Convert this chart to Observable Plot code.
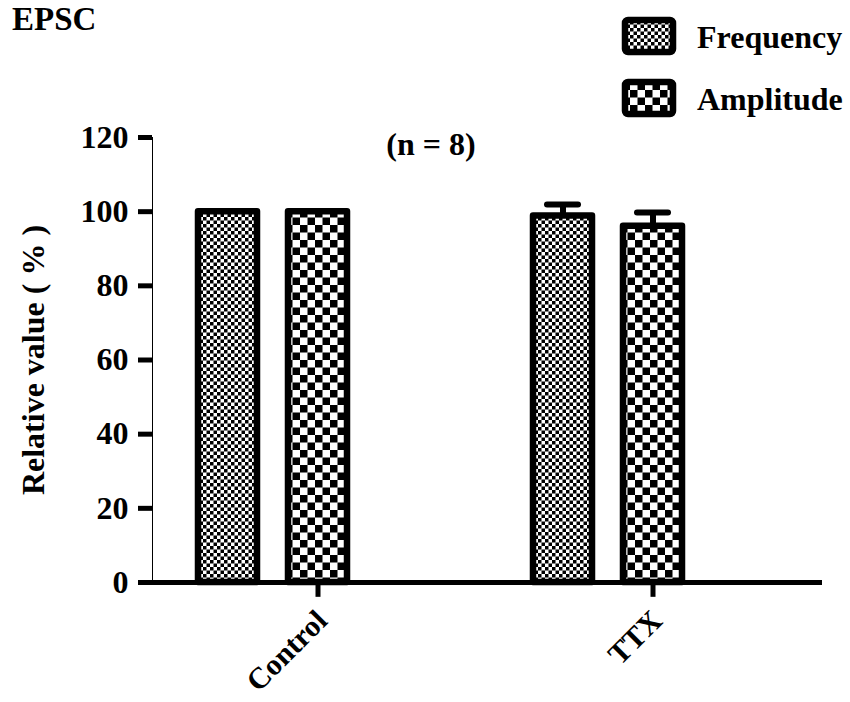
<!DOCTYPE html>
<html>
<head>
<meta charset="utf-8">
<script src="https://cdn.jsdelivr.net/npm/d3@7"></script>
<script src="https://cdn.jsdelivr.net/npm/@observablehq/plot@0.6"></script>
<style>
  html, body { margin: 0; padding: 0; background: #fff; }
  #chart { width: 850px; height: 702px; }
</style>
</head>
<body>
<div id="chart"></div>
<script>
// ---- data ----
const groups = ["Control", "TTX"];
const series = ["Frequency", "Amplitude"];
const frequency = [100, 98.8];
const amplitude = [100, 96.1];
const frequencyErr = [0, 3.1];
const amplitudeErr = [0, 3.7];
const yTicks = [0, 20, 40, 60, 80, 100, 120];
const title = "EPSC";
const note = "(n = 8)";
const yLabel = "Relative value ( % )";

const patternIds = {Frequency: "fineCheck", Amplitude: "coarseCheck"};

const rows = [];
groups.forEach((g, i) => {
  rows.push({group: g, series: "Frequency", value: frequency[i], err: frequencyErr[i]});
  rows.push({group: g, series: "Amplitude", value: amplitude[i], err: amplitudeErr[i]});
});
const errRows = rows.filter(d => d.err > 0);
const groupTicks = groups.map(g => ({group: g, series: "Amplitude"}));

const font = "'Liberation Serif', 'Times New Roman', serif";

const svg = Plot.plot({
  width: 850,
  height: 702,
  marginLeft: 152,
  marginRight: 28,
  marginTop: 137,
  marginBottom: 120,
  style: {fontFamily: font, fontWeight: "bold", fontSize: "32px", color: "black", background: "white"},
  fx: {domain: groups, padding: 0, axis: null},
  x: {domain: series, paddingInner: 0.35, paddingOuter: 1.036, align: 0.248, axis: null},
  y: {
    domain: [0, 120],
    ticks: yTicks,
    tickSize: 14,
    tickPadding: 10,
    line: true,
    label: null
  },
  marks: [
    Plot.barY(rows.filter(d => d.series === "Frequency"), {
      fx: "group", x: "series", y: "value",
      fill: "url(#fineCheck)", stroke: "black", strokeWidth: 6.5, strokeLinejoin: "round"
    }),
    Plot.barY(rows.filter(d => d.series === "Amplitude"), {
      fx: "group", x: "series", y: "value",
      fill: "url(#coarseCheck)", stroke: "black", strokeWidth: 6.5, strokeLinejoin: "round"
    }),
    Plot.ruleX(errRows, {
      fx: "group", x: "series", y1: "value", y2: d => d.value + d.err,
      stroke: "black", strokeWidth: 6
    }),
    Plot.tickY(errRows, {
      fx: "group", x: "series", y: d => d.value + d.err,
      stroke: "black", strokeWidth: 6, strokeLinecap: "round",
      insetLeft: 14, insetRight: 14
    }),
    Plot.ruleY([0], {stroke: "black", strokeWidth: 5}),
    Plot.ruleX(groupTicks, {
      fx: "group", x: "series", y1: 0, y2: -4,
      stroke: "black", strokeWidth: 5
    }),
    Plot.text(groupTicks, {
      fx: "group", x: "series", y: -9, text: "group",
      rotate: -45, textAnchor: "end", dx: 4,
      fontSize: 30, fontWeight: "bold", fill: "black"
    })
  ]
});

// patterns
const sel = d3.select(svg);
const defs = sel.insert("defs", ":first-child");
const fine = defs.append("pattern").attr("id", "fineCheck")
  .attr("patternUnits", "userSpaceOnUse").attr("width", 7).attr("height", 7);
fine.append("rect").attr("width", 7).attr("height", 7).attr("fill", "white");
fine.append("rect").attr("width", 3.5).attr("height", 3.5).attr("fill", "black");
fine.append("rect").attr("x", 3.5).attr("y", 3.5).attr("width", 3.5).attr("height", 3.5).attr("fill", "black");
const coarse = defs.append("pattern").attr("id", "coarseCheck")
  .attr("patternUnits", "userSpaceOnUse").attr("width", 15).attr("height", 15);
coarse.append("rect").attr("width", 15).attr("height", 15).attr("fill", "white");
coarse.append("rect").attr("width", 7.5).attr("height", 7.5).attr("fill", "black");
coarse.append("rect").attr("x", 7.5).attr("y", 7.5).attr("width", 7.5).attr("height", 7.5).attr("fill", "black");

// thicken y axis
sel.selectAll('[aria-label^="y-axis"] path, [aria-label^="y-axis"] line')
  .attr("stroke", "black").attr("stroke-width", 5);
sel.selectAll('[aria-label^="y-axis"] text').attr("fill", "black");

// title, axis title, note and legend
const ann = sel.append("g")
  .attr("font-family", font).attr("font-weight", "bold").attr("fill", "black")
  .attr("text-anchor", "start");
ann.append("text").attr("x", 12).attr("y", 30).attr("font-size", 33).text(title);
ann.append("text").attr("x", 431).attr("y", 155).attr("text-anchor", "middle").attr("font-size", 32).text(note);
ann.append("text").attr("transform", "translate(44,360) rotate(-90)")
  .attr("text-anchor", "middle").attr("font-size", 32).text(yLabel);

const legendItems = [
  {name: series[0], y: 20},
  {name: series[1], y: 82}
];
legendItems.forEach(item => {
  const g = ann.append("g");
  g.append("rect").attr("x", 625).attr("y", item.y).attr("width", 48).attr("height", 32)
    .attr("rx", 3).attr("fill", `url(#${patternIds[item.name]})`)
    .attr("stroke", "black").attr("stroke-width", 6.5).attr("stroke-linejoin", "round");
  g.append("text").attr("x", 697).attr("y", item.y + 28).attr("font-size", 32).text(item.name);
});

document.getElementById("chart").appendChild(svg);
</script>
</body>
</html>
